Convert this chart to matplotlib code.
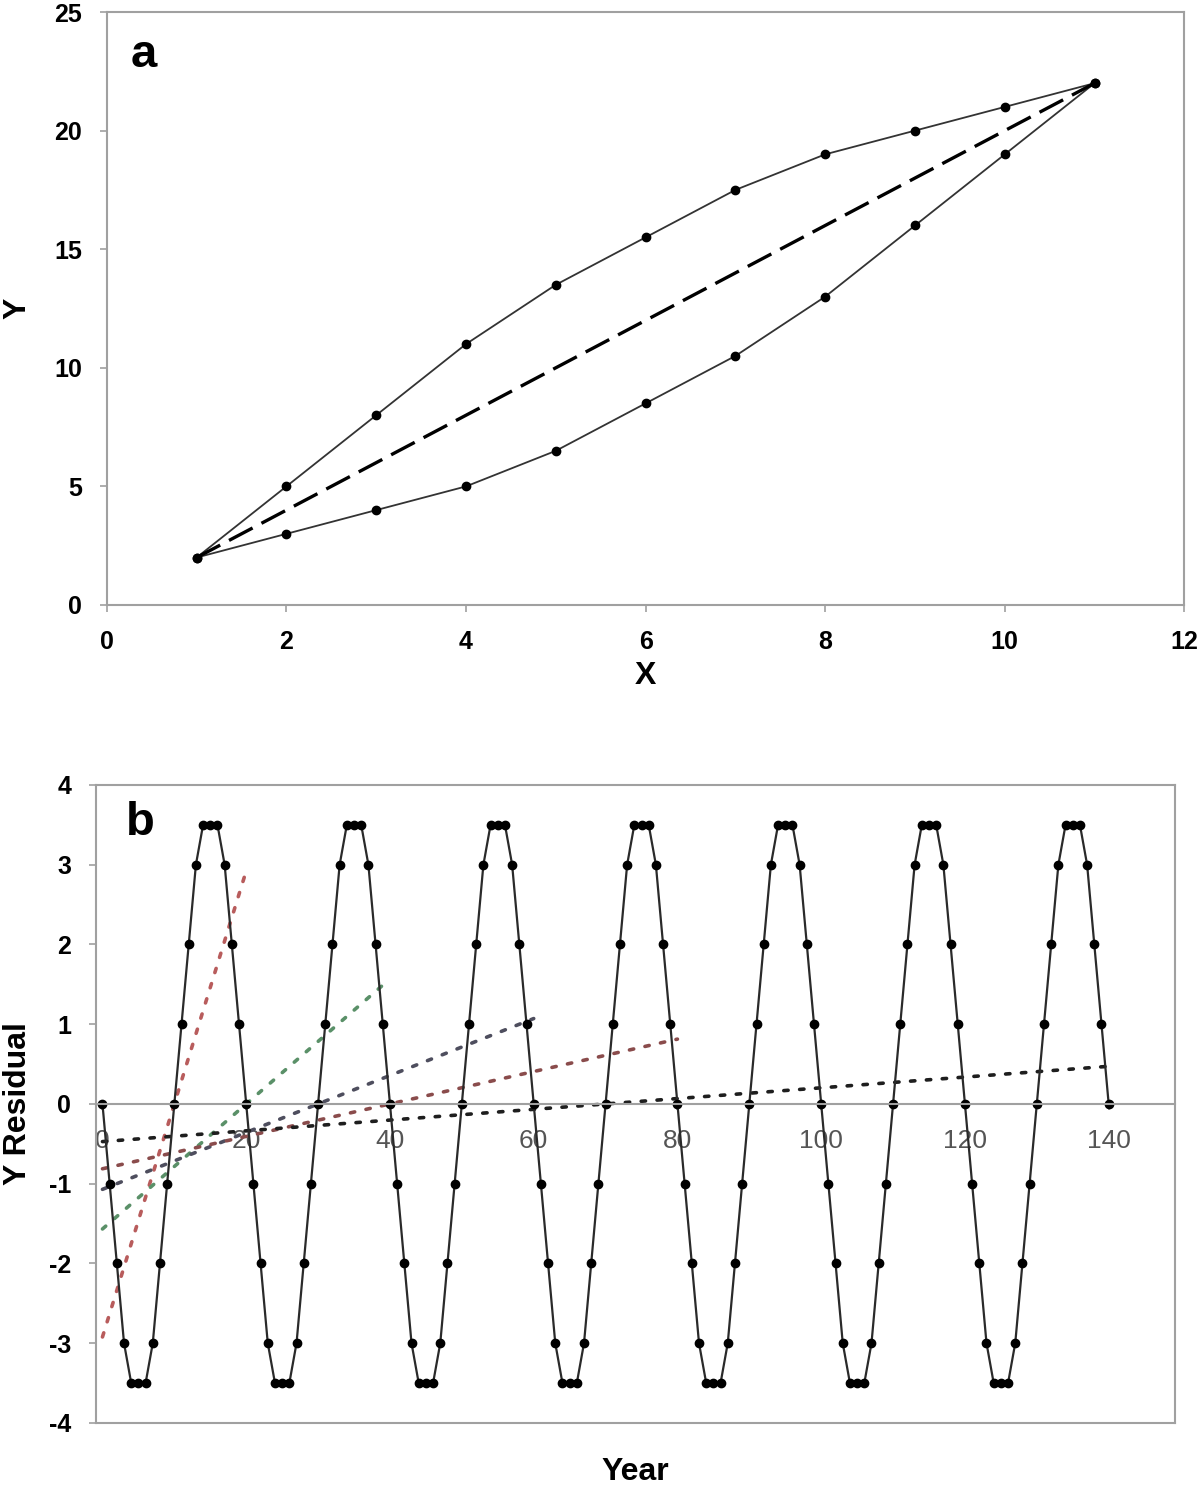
import numpy as np
import matplotlib
matplotlib.use("Agg")
import matplotlib.pyplot as plt

plt.rcParams['font.family'] = ['Liberation Sans', 'DejaVu Sans']
plt.rcParams['axes.unicode_minus'] = False

# Panel a data
x_a = [1, 2, 3, 4, 5, 6, 7, 8, 9, 10, 11]
upper_a = [2, 5, 8, 11, 13.5, 15.5, 17.5, 19, 20, 21, 22]
lower_a = [2, 3, 4, 5, 6.5, 8.5, 10.5, 13, 16, 19, 22]
mid_x = [1, 11]
mid_y = [2, 22]

# Panel b data (yearly residuals)
years = np.arange(0, 141)
residual = [
    0, -1, -2, -3, -3.5, -3.5, -3.5, -3, -2, -1, 0, 1, 2, 3, 3.5, 3.5, 3.5, 3, 2, 1,
    0, -1, -2, -3, -3.5, -3.5, -3.5, -3, -2, -1, 0, 1, 2, 3, 3.5, 3.5, 3.5, 3, 2, 1,
    0, -1, -2, -3, -3.5, -3.5, -3.5, -3, -2, -1, 0, 1, 2, 3, 3.5, 3.5, 3.5, 3, 2, 1,
    0, -1, -2, -3, -3.5, -3.5, -3.5, -3, -2, -1, 0, 1, 2, 3, 3.5, 3.5, 3.5, 3, 2, 1,
    0, -1, -2, -3, -3.5, -3.5, -3.5, -3, -2, -1, 0, 1, 2, 3, 3.5, 3.5, 3.5, 3, 2, 1,
    0, -1, -2, -3, -3.5, -3.5, -3.5, -3, -2, -1, 0, 1, 2, 3, 3.5, 3.5, 3.5, 3, 2, 1,
    0, -1, -2, -3, -3.5, -3.5, -3.5, -3, -2, -1, 0, 1, 2, 3, 3.5, 3.5, 3.5, 3, 2, 1,
    0,
]
# linear trendlines fitted over the first N years
trend_windows = [20, 40, 60, 80, 140]
trend_colors = ['#b85c5c', '#5a9068', '#4e4e5e', '#8a4c4c', '#1e1e1e']

SPINE = '#a0a0a0'

fig = plt.figure(figsize=(12, 14.85), dpi=100)

# ---- panel a ----
ax1 = fig.add_axes([0.089, 0.5926, 0.898, 0.3993])
ax1.plot(x_a, upper_a, color='#333333', lw=1.3, marker='o', ms=6, mfc='black', mec='black')
ax1.plot(x_a, lower_a, color='#333333', lw=1.3, marker='o', ms=6, mfc='black', mec='black')
ax1.plot(mid_x, mid_y, color='black', lw=2.4, dashes=(8, 3))
ax1.set_xlim(0, 12)
ax1.set_ylim(0, 25)
ax1.set_xticks(range(0, 13, 2))
ax1.set_yticks(range(0, 26, 5))
ax1.set_xlabel('X', fontsize=23, fontweight='bold')
ax1.xaxis.set_label_coords(0.5, -0.095)
ax1.set_ylabel('Y', fontsize=23, fontweight='bold', va='center')
ax1.yaxis.set_label_coords(-0.083, 0.5)
ax1.text(0.022, 0.965, 'a', transform=ax1.transAxes, fontsize=34, fontweight='bold', va='top')
ax1.tick_params(labelsize=18, length=5, width=1.2, color=SPINE, pad=13)
for lab in ax1.get_xticklabels() + ax1.get_yticklabels():
    lab.set_fontweight('bold')
for s in ax1.spines.values():
    s.set_color(SPINE)
    s.set_linewidth(1.5)

# ---- panel b ----
ax2 = fig.add_axes([0.08, 0.0418, 0.899, 0.4296])
for w, c in zip(trend_windows, trend_colors):
    coef = np.polyfit(years[:w + 1], residual[:w + 1], 1)
    xs = np.array([0, w])
    ax2.plot(xs, np.polyval(coef, xs), color=c, lw=2.6, linestyle=(0, (1.2, 3.2)),
             dash_capstyle='round')
ax2.plot(years, residual, color='#2a2a2a', lw=1.6, marker='o', ms=6,
         mfc='black', mec='black')
ax2.set_xlim(-0.9, 149.2)
ax2.set_ylim(-4, 4)
ax2.set_xticks(range(0, 141, 20))
ax2.set_yticks(range(-4, 5, 1))
ax2.spines['bottom'].set_position(('data', 0))
ax2.axhline(-4, color=SPINE, lw=1.5, clip_on=False)
ax2.tick_params(axis='y', labelsize=18, length=5, width=1.2, color=SPINE, pad=13)
ax2.tick_params(axis='x', labelsize=19, length=4, width=1.2, color=SPINE, pad=14,
                labelcolor='#555555')
for lab in ax2.get_yticklabels():
    lab.set_fontweight('bold')
for s in ax2.spines.values():
    s.set_color(SPINE)
    s.set_linewidth(1.5)
ax2.set_xlabel('Year', fontsize=23, fontweight='bold')
ax2.xaxis.set_label_coords(0.5, -0.054)
ax2.set_ylabel('Y Residual', fontsize=23, fontweight='bold', va='center')
ax2.yaxis.set_label_coords(-0.072, 0.5)
ax2.text(0.028, 0.975, 'b', transform=ax2.transAxes, fontsize=34, fontweight='bold', va='top')

fig.savefig('out.png', dpi=100)
